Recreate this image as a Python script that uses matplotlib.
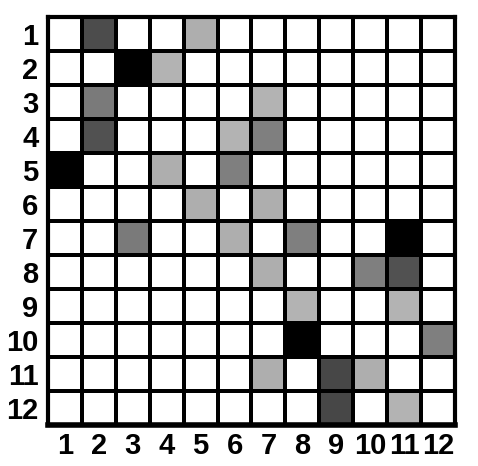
import numpy as np
import matplotlib
matplotlib.use("Agg")
import matplotlib.pyplot as plt

rows = list(range(1, 13))
cols = list(range(1, 13))
# intensity 0 = white, 1 = black; entries: (row, col, intensity)
cells = [
    (1, 2, 0.70), (1, 5, 0.32),
    (2, 3, 1.00), (2, 4, 0.30),
    (3, 2, 0.52), (3, 7, 0.30),
    (4, 2, 0.68), (4, 6, 0.30), (4, 7, 0.50),
    (5, 1, 1.00), (5, 4, 0.32), (5, 6, 0.50),
    (6, 5, 0.32), (6, 7, 0.32),
    (7, 3, 0.52), (7, 6, 0.32), (7, 8, 0.50), (7, 11, 1.00),
    (8, 7, 0.32), (8, 10, 0.50), (8, 11, 0.68),
    (9, 8, 0.30), (9, 11, 0.30),
    (10, 8, 1.00), (10, 12, 0.50),
    (11, 7, 0.32), (11, 9, 0.72), (11, 10, 0.32),
    (12, 9, 0.72), (12, 11, 0.30),
]

M = np.zeros((len(rows), len(cols)))
for r, c, v in cells:
    M[r - 1, c - 1] = v

plt.rcParams['font.family'] = ['Liberation Sans', 'DejaVu Sans']
fig = plt.figure(figsize=(4.78, 4.66), dpi=100)
ax = fig.add_axes([0.1004, 0.088, 0.8515, 0.8755])
ax.pcolormesh(np.arange(len(cols) + 1) + 0.5, np.arange(len(rows) + 1) + 0.5, M,
              cmap='gray_r', vmin=0, vmax=1, edgecolors='black', linewidth=2.8)
ax.set_xlim(0.5, 12.5)
ax.set_ylim(12.5, 0.5)
ax.set_xticks(cols)
ax.set_yticks(rows)
ax.set_xticklabels([str(c) for c in cols], fontsize=21, fontweight='bold')
ax.set_yticklabels([str(r) for r in rows], fontsize=21, fontweight='bold')
ax.tick_params(axis='x', length=0, pad=5)
ax.tick_params(axis='y', length=0, pad=7)
for s in ax.spines.values():
    s.set_linewidth(3)
ax.spines['bottom'].set_linewidth(4)
fig.savefig('out.png', dpi=100)
